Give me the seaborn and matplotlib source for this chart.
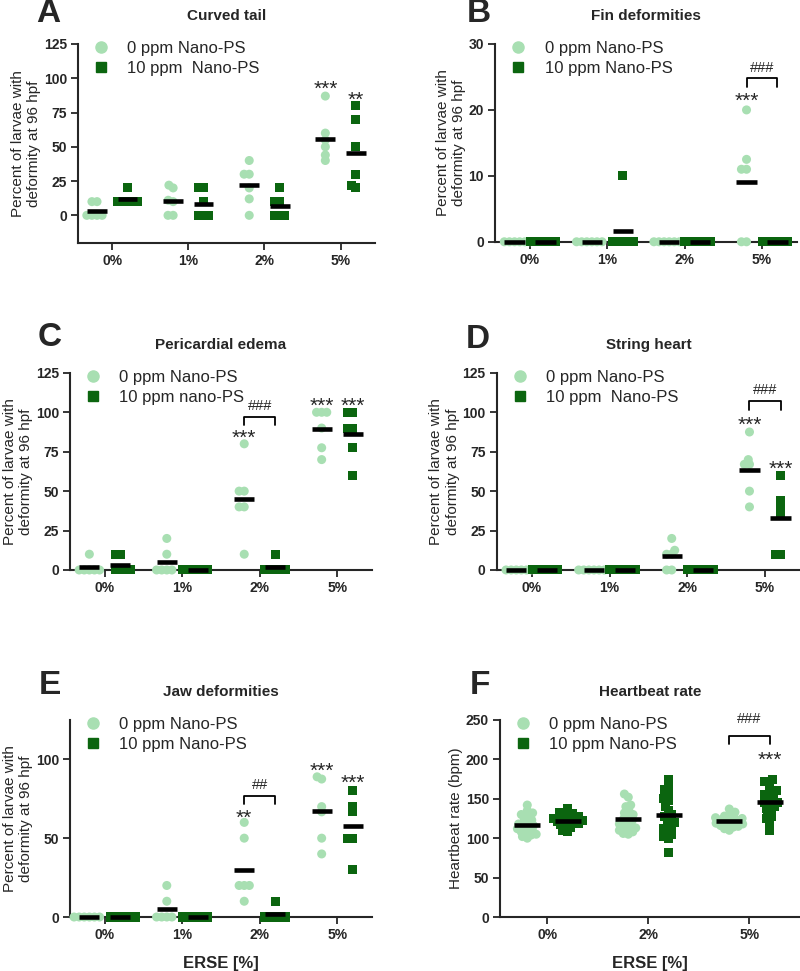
import pandas as pd
import matplotlib
matplotlib.use('Agg')
import matplotlib.pyplot as plt
import seaborn as sns
from matplotlib.lines import Line2D

# ---- data ----
conc4 = ['0%', '1%', '2%', '5%']
conc3 = ['0%', '2%', '5%']
groups = ['0 ppm', '10 ppm']

# A: curved tail (% larvae), one list per ERSE concentration
tail_0ppm = [[0, 0, 0, 0, 10, 10], [20, 22, 11, 10, 0, 0],
             [40, 30, 30, 20, 12, 0], [87, 60, 55, 50, 44, 40]]
tail_10ppm = [[20, 10, 10, 10, 10, 10], [20, 20, 10, 0, 0, 0],
              [20, 10, 10, 0, 0, 0], [80, 70, 50, 30, 20, 22]]

# B: fin deformities
fin_0ppm = [[0, 0, 0, 0, 0, 0], [0, 0, 0, 0, 0, 0],
            [0, 0, 0, 0, 0, 0], [20, 12.5, 11, 11, 0, 0]]
fin_10ppm = [[0, 0, 0, 0, 0, 0], [10, 0, 0, 0, 0, 0],
             [0, 0, 0, 0, 0, 0], [0, 0, 0, 0, 0, 0]]

# C: pericardial edema
edema_0ppm = [[10, 0, 0, 0, 0, 0], [20, 10, 0, 0, 0, 0],
              [80, 50, 50, 40, 40, 10], [100, 100, 100, 90, 77.5, 70]]
edema_10ppm = [[10, 10, 0, 0, 0, 0], [0, 0, 0, 0, 0, 0],
               [10, 0, 0, 0, 0, 0], [100, 100, 90, 90, 77.5, 60]]

# D: string heart
string_0ppm = [[0, 0, 0, 0, 0, 0], [0, 0, 0, 0, 0, 0],
               [20, 12.5, 10, 10, 0, 0], [87.5, 70, 67, 67, 50, 40]]
string_10ppm = [[0, 0, 0, 0, 0, 0], [0, 0, 0, 0, 0, 0],
                [0, 0, 0, 0, 0, 0], [60, 44, 40, 35, 10, 10]]

# E: jaw deformities
jaw_0ppm = [[0, 0, 0, 0, 0, 0], [20, 10, 0, 0, 0, 0],
            [60, 50, 20, 20, 20, 10], [88.9, 87.5, 70, 66.7, 50, 40]]
jaw_10ppm = [[0, 0, 0, 0, 0, 0], [0, 0, 0, 0, 0, 0],
             [10, 0, 0, 0, 0, 0], [80, 70, 66.7, 50, 50, 30]]

# F: heartbeat rate (bpm)
heart_0ppm = [
    [142, 135, 132, 130, 128, 125, 123, 120, 118, 116,
     115, 113, 112, 110, 108, 107, 105, 104, 102, 100],
    [156, 152, 142, 140, 135, 132, 130, 128, 125, 123,
     120, 118, 117, 115, 113, 112, 110, 108, 106, 105],
    [137, 133, 130, 128, 127, 126, 125, 124, 123, 122,
     121, 120, 119, 118, 117, 116, 115, 114, 112, 110],
]
heart_10ppm = [
    [137, 133, 131, 130, 128, 127, 126, 125, 124, 123,
     122, 121, 120, 119, 118, 117, 115, 113, 110, 108],
    [175, 168, 162, 158, 150, 148, 140, 135, 130, 128,
     125, 120, 118, 115, 112, 110, 105, 102, 100, 82],
    [175, 172, 170, 160, 160, 155, 155, 152, 145, 148,
     145, 143, 140, 138, 135, 132, 128, 125, 120, 110],
]

LIGHT = '#a8dfb2'
DARK = '#0b650f'
YLAB = 'Percent of larvae with\ndeformity at 96 hpf'


def make_df(conc, g0, g1):
    rows = []
    for c, v0, v1 in zip(conc, g0, g1):
        rows += [(c, groups[0], v) for v in v0]
        rows += [(c, groups[1], v) for v in v1]
    return pd.DataFrame(rows, columns=['conc', 'group', 'value'])


def draw_panel(ax, df, conc, title, ylim, yticks, ylabel, legend_labels, xlabel=''):
    for grp, mk, col in zip(groups, ['o', 's'], [LIGHT, DARK]):
        sub = df[df['group'] == grp]
        # negative edge width -> the swarm packs points closer (overlapping, like Prism)
        sns.swarmplot(data=sub, x='conc', y='value', hue='group', order=conc,
                      hue_order=groups, dodge=True, marker=mk,
                      palette={groups[0]: col, groups[1]: col}, size=6.5,
                      linewidth=-3.0, edgecolor='none', ax=ax, legend=False,
                      clip_on=False, zorder=3)
    # mean bars
    means = df.groupby(['conc', 'group'])['value'].mean()
    for i, c in enumerate(conc):
        for j, g in enumerate(groups):
            xc = i - 0.2 + 0.4 * j
            ax.hlines(means[(c, g)], xc - 0.13, xc + 0.13, color='black',
                      lw=3.3, zorder=5, clip_on=False)
    ax.set_xlim(-0.45, len(conc) - 0.55)
    ax.set_ylim(*ylim)
    ax.set_yticks(yticks)
    ax.set_xlabel(xlabel, fontsize=12, fontweight='bold', labelpad=10)
    ax.set_ylabel(ylabel, fontsize=11, labelpad=2)
    ax.text(0.5, 1.14, title, transform=ax.transAxes, ha='center', va='center',
            fontsize=11, fontweight='bold')
    for lab in ax.get_xticklabels() + ax.get_yticklabels():
        lab.set_fontweight('bold')
    ax.tick_params(labelsize=10, width=1.3, length=5, pad=3)
    for s in ['left', 'bottom']:
        ax.spines[s].set_linewidth(1.5)
    sns.despine(ax=ax)
    handles = [Line2D([], [], marker='o', ls='', color=LIGHT, markersize=8),
               Line2D([], [], marker='s', ls='', color=DARK, markersize=7)]
    ax.legend(handles, legend_labels, loc='upper left', bbox_to_anchor=(0.02, 1.05),
              frameon=False, fontsize=12, handletextpad=1.0, handlelength=1.2,
              labelspacing=0.3, borderaxespad=0)


def star(ax, x, y, s, size=15):
    ax.annotate(s, (x, y), xytext=(0, -5), textcoords='offset points',
                ha='center', va='center', fontsize=size, annotation_clip=False)


def bracket(ax, x0, x1, y_low, y_high, label, y_text):
    ax.plot([x0, x0, x1, x1], [y_low, y_high, y_high, y_low], color='black',
            lw=1.3, clip_on=False)
    ax.text((x0 + x1) / 2, y_text, label, ha='center', va='center', fontsize=10.5)


sns.set_style('ticks')
plt.rcParams['font.family'] = ['Liberation Sans', 'DejaVu Sans']

fig = plt.figure(figsize=(8, 9.71), dpi=100)
axA = fig.add_axes([0.0975, 0.75, 0.371, 0.2047])
axB = fig.add_axes([0.619, 0.751, 0.377, 0.2037])
axC = fig.add_axes([0.0875, 0.413, 0.3775, 0.203])
axD = fig.add_axes([0.621, 0.413, 0.379, 0.203])
axE = fig.add_axes([0.0875, 0.0556, 0.3775, 0.203])
axF = fig.add_axes([0.625, 0.0556, 0.375, 0.203])

draw_panel(axA, make_df(conc4, tail_0ppm, tail_10ppm), conc4, 'Curved tail',
           (-20, 125), [0, 25, 50, 75, 100, 125], YLAB,
           ['0 ppm Nano-PS', '10 ppm  Nano-PS'])
star(axA, 2.8, 97, '***')
star(axA, 3.2, 89, '**')

draw_panel(axB, make_df(conc4, fin_0ppm, fin_10ppm), conc4, 'Fin deformities',
           (0, 30), [0, 10, 20, 30], YLAB,
           ['0 ppm Nano-PS', '10 ppm Nano-PS'])
star(axB, 2.8, 22.3, '***')
bracket(axB, 2.8, 3.2, 23.5, 24.8, '###', 26.4)

draw_panel(axC, make_df(conc4, edema_0ppm, edema_10ppm), conc4, 'Pericardial edema',
           (0, 125), [0, 25, 50, 75, 100, 125], YLAB,
           ['0 ppm Nano-PS', '10 ppm nano-PS'])
star(axC, 1.8, 88, '***')
bracket(axC, 1.8, 2.2, 92, 97, '###', 104)
star(axC, 2.8, 108, '***')
star(axC, 3.2, 108, '***')

draw_panel(axD, make_df(conc4, string_0ppm, string_10ppm), conc4, 'String heart',
           (0, 125), [0, 25, 50, 75, 100, 125], YLAB,
           ['0 ppm Nano-PS', '10 ppm  Nano-PS'])
star(axD, 2.8, 96, '***')
star(axD, 3.2, 68, '***')
bracket(axD, 2.8, 3.2, 101.7, 107, '###', 114)

draw_panel(axE, make_df(conc4, jaw_0ppm, jaw_10ppm), conc4, 'Jaw deformities',
           (0, 125), [0, 50, 100], YLAB,
           ['0 ppm Nano-PS', '10 ppm Nano-PS'], xlabel='ERSE [%]')
star(axE, 1.8, 67, '**')
bracket(axE, 1.8, 2.2, 71.6, 76.7, '##', 84)
star(axE, 2.8, 97, '***')
star(axE, 3.2, 89, '***')

draw_panel(axF, make_df(conc3, heart_0ppm, heart_10ppm), conc3, 'Heartbeat rate',
           (0, 250), [0, 50, 100, 150, 200, 250], 'Heartbeat rate (bpm)',
           ['0 ppm Nano-PS', '10 ppm Nano-PS'], xlabel='ERSE [%]')
axF.set_xlim(-0.47, 2.5)
star(axF, 2.2, 207, '***')
bracket(axF, 1.8, 2.2, 220, 229, '###', 251)

# panel letters
for lab, (px, py) in zip('ABCDEF', [(48, 14), (479, 14), (50, 338),
                                    (478, 339), (50, 686), (480, 686)]):
    fig.text(px / 800, 1 - py / 971, lab, ha='center', va='center',
             fontsize=24, fontweight='bold')

fig.savefig('out.png', dpi=100)
